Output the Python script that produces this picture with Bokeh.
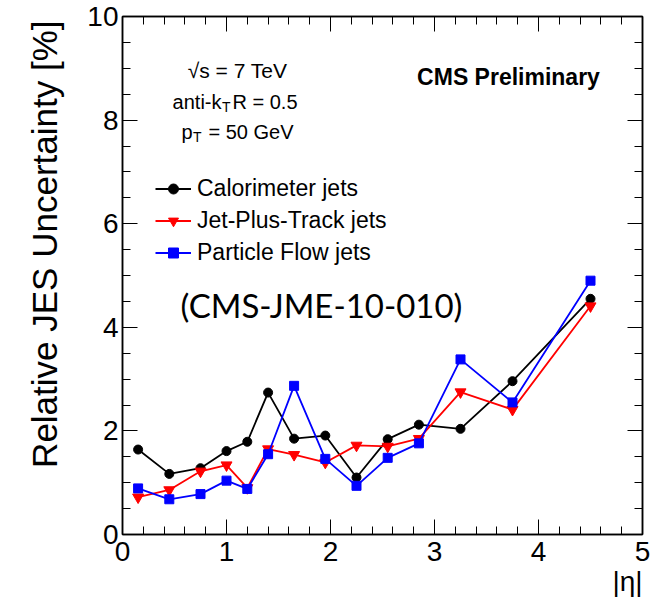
import math
from bokeh.plotting import figure
from bokeh.models import (Range1d, LinearAxis, SingleIntervalTicker, Label, Title,
                          Legend, LegendItem, ColumnDataSource, CustomJSTickFormatter)
from bokeh.embed import file_html
from bokeh.resources import INLINE

# ---------------- data ----------------
eta = [0.15, 0.45, 0.75, 1.0, 1.2, 1.4, 1.65, 1.95, 2.25, 2.55, 2.85, 3.25, 3.75, 4.5]
calo_jets = [1.64, 1.17, 1.28, 1.61, 1.79, 2.74, 1.85, 1.91, 1.10, 1.84, 2.12, 2.04, 2.96, 4.55]
jpt_jets = [0.72, 0.86, 1.22, 1.34, 0.90, 1.65, 1.54, 1.39, 1.72, 1.70, 1.85, 2.75, 2.41, 4.41]
pf_jets = [0.89, 0.68, 0.78, 1.04, 0.88, 1.55, 2.87, 1.46, 0.94, 1.48, 1.76, 3.38, 2.55, 4.90]
series_names = ["Calorimeter jets", "Jet-Plus-Track jets", "Particle Flow jets"]
x_title = "|η|"
y_title = "Relative JES Uncertainty [%]"

FONT = "Liberation Sans"

p = figure(width=652, height=607, x_range=Range1d(0, 5), y_range=Range1d(0, 10),
           output_backend="svg", toolbar_location=None,
           min_border_left=122, min_border_right=10, min_border_top=16, min_border_bottom=73)
p.xgrid.visible = False
p.ygrid.visible = False
p.outline_line_color = "black"
p.outline_line_width = 1.5
p.background_fill_color = "white"
p.border_fill_color = "white"

def style_axis(ax, labels=True):
    ax.major_tick_in = 15
    ax.major_tick_out = 0
    ax.minor_tick_in = 8
    ax.minor_tick_out = 0
    ax.major_tick_line_color = "black"
    ax.minor_tick_line_color = "black"
    ax.major_tick_line_width = 1
    ax.minor_tick_line_width = 1
    ax.axis_line_color = "black"
    ax.axis_line_width = 1.5
    if labels:
        ax.major_label_text_font = FONT
        ax.major_label_text_font_size = "28px"
        ax.major_label_text_color = "black"
    else:
        ax.formatter = CustomJSTickFormatter(code="return ''")
        ax.major_label_text_font_size = "1px"
        ax.major_label_standoff = 0

xt = SingleIntervalTicker(interval=1, num_minor_ticks=5)
yt = SingleIntervalTicker(interval=2, num_minor_ticks=4)
p.xaxis.ticker = xt
p.yaxis.ticker = yt
style_axis(p.xaxis[0])
style_axis(p.yaxis[0])
p.xaxis.major_label_standoff = 7
p.yaxis.major_label_standoff = 4

top_ax = LinearAxis(ticker=SingleIntervalTicker(interval=1, num_minor_ticks=5))
style_axis(top_ax, labels=False)
p.add_layout(top_ax, "above")
right_ax = LinearAxis(ticker=SingleIntervalTicker(interval=2, num_minor_ticks=4))
style_axis(right_ax, labels=False)
p.add_layout(right_ax, "right")

# axis titles (ROOT style: aligned to the axis end)
p.add_layout(Title(text=y_title, align="right", text_font=FONT, text_font_size="35px",
                   text_font_style="normal", text_color="black", standoff=42,
                   offset=4), "left")
p.add_layout(Title(text=x_title, align="right", text_font=FONT, text_font_size="28px",
                   text_font_style="normal", text_color="black", standoff=0), "below")

src = ColumnDataSource(dict(eta=eta, calo=calo_jets, jpt=jpt_jets, pf=pf_jets))

l1 = p.line("eta", "calo", source=src, color="black", line_width=1.8)
s1 = p.scatter("eta", "calo", source=src, marker="circle", size=9, color="black")
l2 = p.line("eta", "jpt", source=src, color="#ff0000", line_width=1.8)
s2 = p.scatter("eta", "jpt", source=src, marker="inverted_triangle", size=11, color="#ff0000")
l3 = p.line("eta", "pf", source=src, color="#0000ff", line_width=1.8)
s3 = p.scatter("eta", "pf", source=src, marker="square", size=9, color="#0000ff")

legend = Legend(items=[LegendItem(label=series_names[0], renderers=[l1, s1]),
                       LegendItem(label=series_names[1], renderers=[l2, s2]),
                       LegendItem(label=series_names[2], renderers=[l3, s3])],
                location=(33, 268), padding=0, margin=0, spacing=5,
                glyph_width=36, glyph_height=25, label_height=25, label_standoff=6,
                border_line_color=None, background_fill_alpha=0,
                label_text_font=FONT, label_text_font_size="23px",
                label_text_color="black")
p.add_layout(legend, "center")

def px2x(px):
    return (px - 122) / 104.0

def py2y(py):
    return 10 - (py - 16) / 51.8

def add_text(text, px, py, size="20px", align="left", font=FONT, style="normal"):
    p.add_layout(Label(x=px2x(px), y=py2y(py), text=text, text_font=font,
                       text_font_size=size, text_align=align, text_baseline="alphabetic",
                       text_font_style=style, text_color="black"))

# info text
add_text("√s = 7 TeV", 237, 70, size="21px", align="center")
add_text("anti-k", 221, 101, align="right")
add_text("T", 221.5, 106, size="14px", align="left")
add_text("R = 0.5", 232, 101, align="left")
add_text("p", 192, 131, align="right")
add_text("T", 192.5, 136, size="14px", align="left")
add_text("= 50 GeV", 208, 131, align="left")
add_text("CMS Preliminary", 508, 76, size="23px", align="center", style="bold")
add_text("(CMS-JME-10-010)", 321, 304, size="33px", align="center", font="Lato")

open("out.html", "w").write(file_html(p, INLINE))
